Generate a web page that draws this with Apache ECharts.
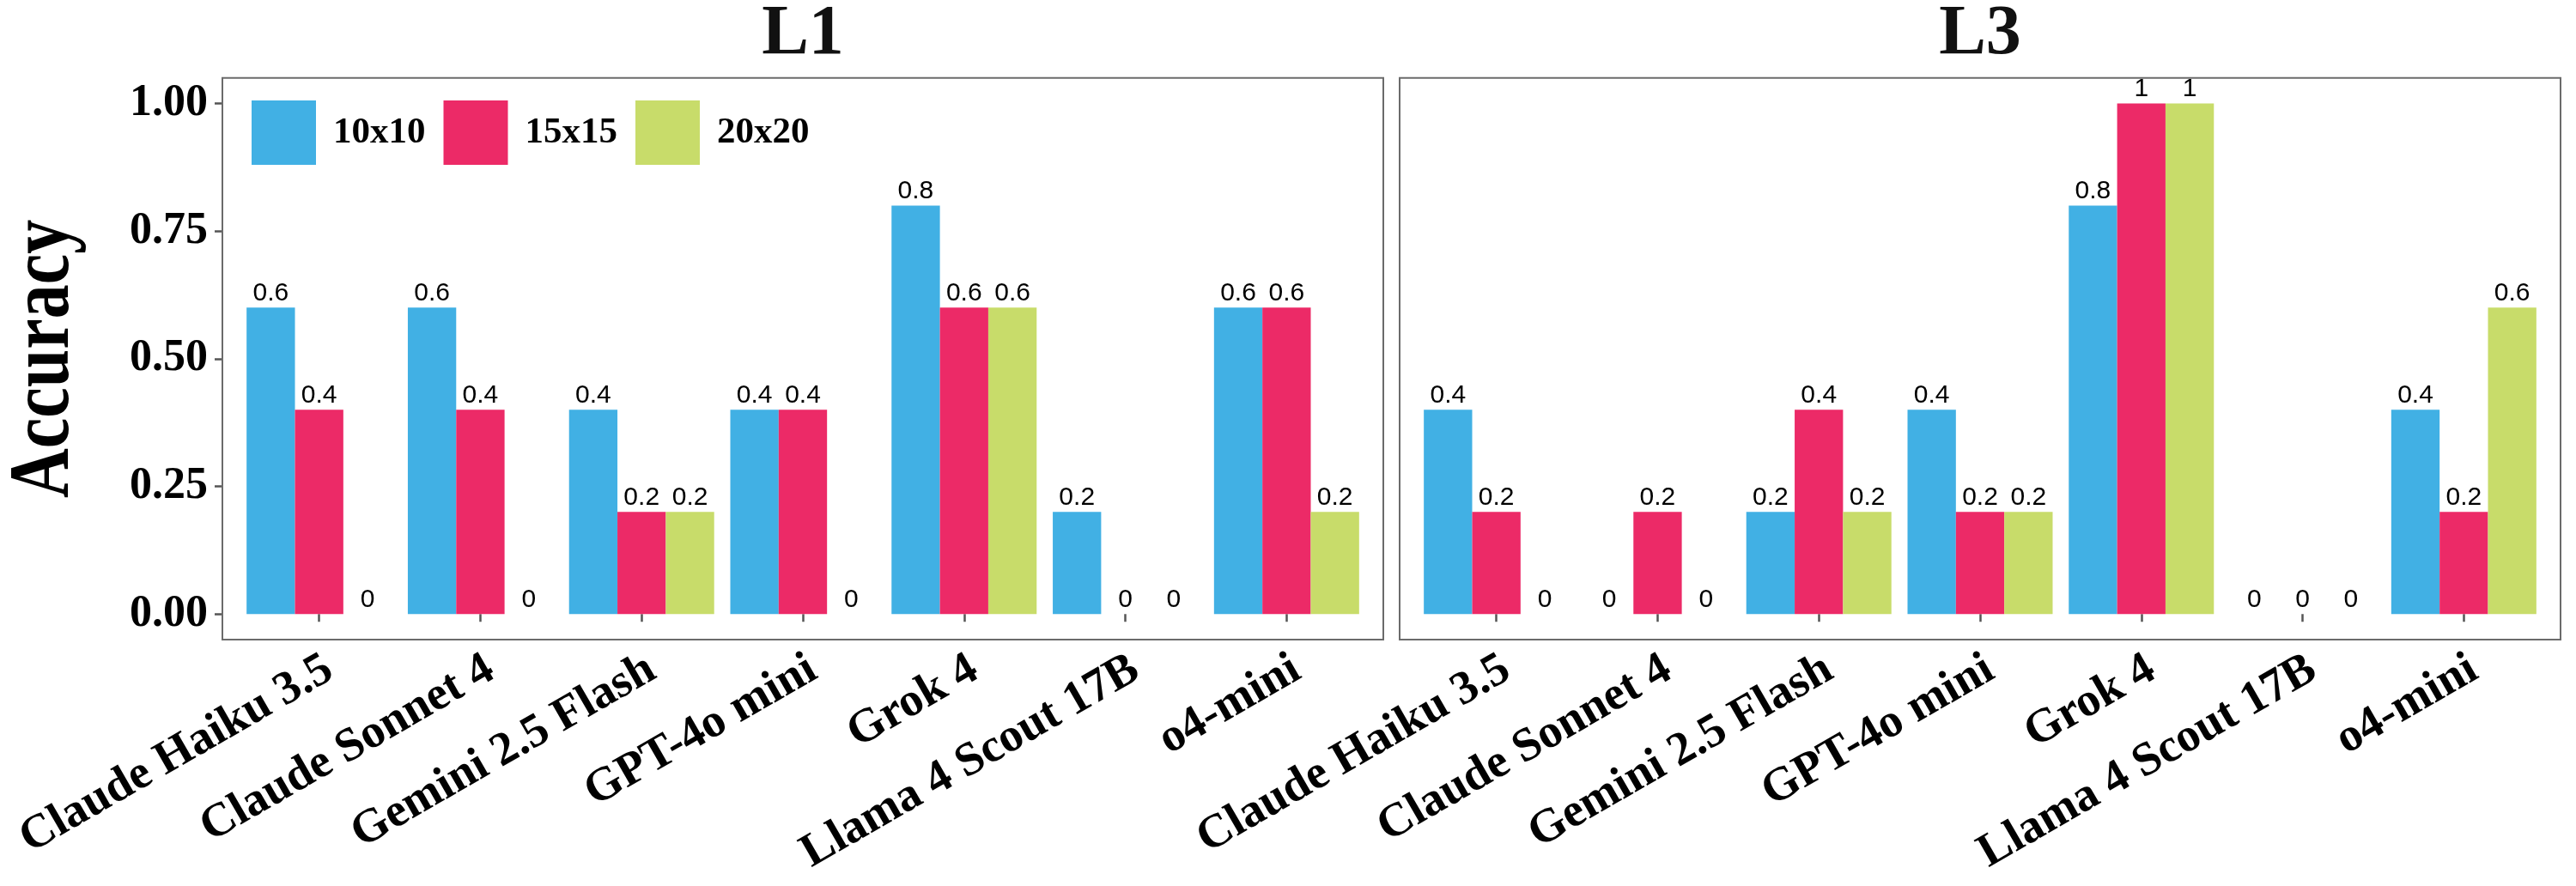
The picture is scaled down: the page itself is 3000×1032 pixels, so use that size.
<!DOCTYPE html>
<html>
<head>
<meta charset="utf-8">
<script src="https://cdn.jsdelivr.net/npm/echarts@6/dist/echarts.min.js"></script>
<style>
html,body{margin:0;padding:0;background:#fff;}
#chart{width:3000px;height:1032px;}
</style>
</head>
<body>
<div id="chart"></div>
<script>
// ---------- data ----------
const categories = ['Claude Haiku 3.5','Claude Sonnet 4','Gemini 2.5 Flash','GPT-4o mini','Grok 4','Llama 4 Scout 17B','o4-mini'];
const panelNames = ['L1','L3'];
const sizeNames = ['10x10','15x15','20x20'];
const yTicks = [0, 0.25, 0.5, 0.75, 1];
const L1_10x10 = [0.6, 0.6, 0.4, 0.4, 0.8, 0.2, 0.6];
const L1_15x15 = [0.4, 0.4, 0.2, 0.4, 0.6, 0, 0.6];
const L1_20x20 = [0, 0, 0.2, 0, 0.6, 0, 0.2];
const L3_10x10 = [0.4, 0, 0.2, 0.4, 0.8, 0, 0.4];
const L3_15x15 = [0.2, 0.2, 0.4, 0.2, 1, 0, 0.2];
const L3_20x20 = [0, 0, 0.2, 0.2, 1, 0, 0.6];
const panelData = [[L1_10x10, L1_15x15, L1_20x20], [L3_10x10, L3_15x15, L3_20x20]];

// ---------- layout / style ----------
const colors = ['#41B0E4', '#EC2A67', '#C8DC6A'];
const SERIF = "'Liberation Serif', 'Times New Roman', serif";
const SANS = "'Liberation Sans', Arial, sans-serif";
const panelLeft = [259, 1630];
const panelW = 1352;
const panelTop = 90.7, panelBottom = 745;
const unit = panelW / 7.2;            // ggplot discrete expansion 0.6 each side
const inset = 0.1 * unit;
const perVal = (panelBottom - panelTop) / 1.1;
const y1 = panelTop + 0.05 * perVal;
const y0 = panelBottom - 0.05 * perVal;
const borderColor = '#6b6b6b';
const tickColor = '#555555';

const grids = [], xAxes = [], yAxes = [], series = [], graphics = [];
panelNames.forEach((pn, p) => {
  grids.push({
    left: panelLeft[p] + inset,
    width: panelW - 2 * inset,
    top: y1,
    height: y0 - y1,
    containLabel: false
  });
  xAxes.push({
    type: 'category', gridIndex: p, data: categories,
    offset: panelBottom - y0,
    axisLine: {show: false},
    axisTick: {show: true, alignWithLabel: true, length: 9, lineStyle: {color: tickColor, width: 2.5}},
    axisLabel: {
      interval: 0, rotate: 30, margin: 38,
      fontFamily: SERIF, fontWeight: 'bold', fontSize: 55, color: '#000',
      padding: [0, -14, 0, 0]
    },
    splitLine: {show: false}
  });
  yAxes.push({
    type: 'value', gridIndex: p, min: 0, max: 1, interval: 0.25,
    offset: inset,
    axisLine: {show: false},
    axisTick: {show: p === 0, length: 9, lineStyle: {color: tickColor, width: 2.5}},
    axisLabel: {
      show: p === 0, margin: 17,
      fontFamily: SERIF, fontWeight: 'bold', fontSize: 52, color: '#000',
      formatter: v => yTicks.indexOf(v) >= 0 ? v.toFixed(2) : ''
    },
    splitLine: {show: false}
  });
  sizeNames.forEach((sn, s) => {
    series.push({
      type: 'bar', name: sn, xAxisIndex: p, yAxisIndex: p,
      data: panelData[p][s],
      itemStyle: {color: colors[s]},
      barCategoryGap: '10%', barGap: '0%',
      label: {
        show: true, position: 'top', distance: 2,
        fontFamily: SANS, fontSize: 30, color: '#000',
        formatter: d => String(d.value)
      },
      emphasis: {disabled: true},
      animation: false
    });
  });
  graphics.push({
    type: 'rect', z: 10, silent: true,
    shape: {x: panelLeft[p], y: panelTop, width: panelW, height: panelBottom - panelTop},
    style: {fill: 'none', stroke: borderColor, lineWidth: 2}
  });
  graphics.push({
    type: 'text', z: 10, silent: true,
    x: panelLeft[p] + panelW / 2, y: 41,
    style: {text: pn, fill: '#111', font: "bold 82px " + SERIF, align: 'center', verticalAlign: 'middle'}
  });
});
graphics.push({
  type: 'text', z: 10, silent: true,
  x: 53, y: (panelTop + panelBottom) / 2,
  rotation: Math.PI / 2, scaleX: 0.8,
  style: {text: 'Accuracy', fill: '#000', font: "bold 100px " + SERIF, align: 'center', verticalAlign: 'middle'}
});

const chart = echarts.init(document.getElementById('chart'), null, {renderer: 'canvas', width: 3000, height: 1032});
chart.setOption({
  backgroundColor: '#ffffff',
  animation: false,
  color: colors,
  legend: {
    data: sizeNames,
    left: 288, top: 112,
    orient: 'horizontal',
    icon: 'rect',
    itemWidth: 75, itemHeight: 75, itemGap: 21,
    selectedMode: false,
    textStyle: {fontFamily: SERIF, fontWeight: 'bold', fontSize: 43, color: '#000', padding: [0, 0, 0, 15]}
  },
  grid: grids,
  xAxis: xAxes,
  yAxis: yAxes,
  series: series,
  graphic: graphics
});
</script>
</body>
</html>
